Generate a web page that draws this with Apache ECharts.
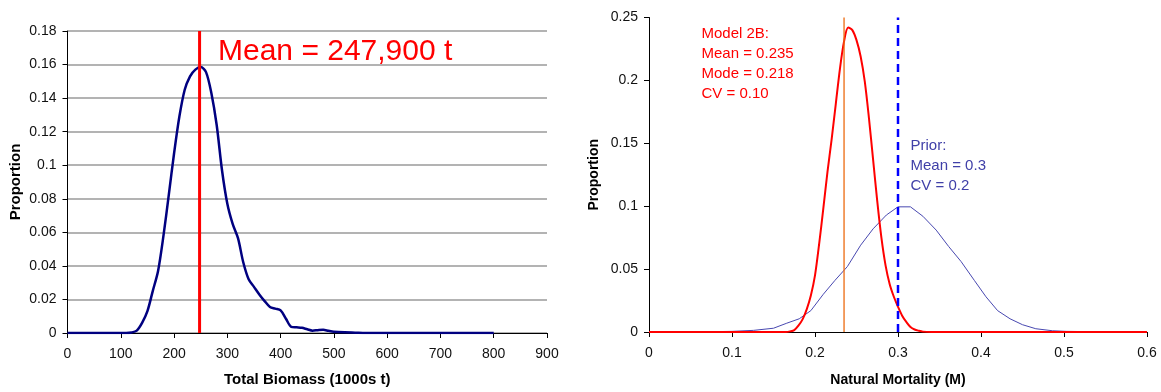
<!DOCTYPE html>
<html>
<head>
<meta charset="utf-8">
<script src="https://cdn.jsdelivr.net/npm/echarts@6.0.0/dist/echarts.min.js"></script>
<style>
  html, body { margin: 0; padding: 0; background: #fff; }
  #chart { width: 1161px; height: 392px; }
</style>
</head>
<body>
<div id="chart"></div>
<script>
// Posterior of total biomass (1000s t)
const biomass = [0, 100, 110, 120, 130, 140, 150, 160, 170, 180, 190, 200, 210, 220, 230, 240, 250,
  260, 270, 280, 290, 300, 310, 320, 330, 340, 350, 360, 370, 380, 390, 400, 410, 420, 430, 440,
  450, 460, 470, 480, 490, 500, 520, 540, 560, 800];
const biomassProp = [0, 0, 0, 0.0003, 0.0014, 0.006, 0.013, 0.025, 0.037, 0.0577, 0.082, 0.107, 0.129,
  0.145, 0.153, 0.157, 0.1585, 0.1555, 0.143, 0.124, 0.097, 0.077, 0.065, 0.0565, 0.042, 0.032, 0.0275,
  0.023, 0.019, 0.0155, 0.0145, 0.0135, 0.0085, 0.0037, 0.0034, 0.0031, 0.0022, 0.0014, 0.0017, 0.0019,
  0.0013, 0.0008, 0.0004, 0.0002, 0, 0];
const biomassMean = 247.9;

// Natural mortality: Model 2B posterior
const postM = [0, 0.165, 0.17, 0.175, 0.18, 0.185, 0.19, 0.195, 0.2, 0.205, 0.21, 0.215, 0.22, 0.225,
  0.23, 0.235, 0.24, 0.245, 0.25, 0.255, 0.26, 0.265, 0.27, 0.275, 0.28, 0.285, 0.29, 0.295, 0.3,
  0.305, 0.31, 0.315, 0.32, 0.325, 0.33, 0.34, 0.6];
const postProp = [0, 0, 0.0005, 0.0015, 0.005, 0.01, 0.018, 0.029, 0.045, 0.07, 0.098, 0.127, 0.153,
  0.181, 0.209, 0.231, 0.242, 0.24, 0.232, 0.219, 0.199, 0.17, 0.137, 0.104, 0.075, 0.053, 0.038,
  0.028, 0.02, 0.013, 0.008, 0.004, 0.002, 0.001, 0.0003, 0, 0];
const postMean = 0.235;

// Natural mortality: prior
const priorM = [0, 0.05, 0.1, 0.126, 0.15, 0.166, 0.181, 0.195, 0.21, 0.224, 0.239, 0.255, 0.27, 0.286,
  0.3, 0.315, 0.33, 0.346, 0.361, 0.376, 0.392, 0.406, 0.42, 0.435, 0.45, 0.466, 0.486, 0.503, 0.55, 0.6];
const priorProp = [0, 0, 0.0005, 0.0013, 0.003, 0.007, 0.0105, 0.017, 0.03, 0.041, 0.052, 0.069, 0.082,
  0.093, 0.0995, 0.0995, 0.092, 0.081, 0.068, 0.056, 0.041, 0.028, 0.017, 0.0105, 0.0058, 0.0026, 0.001,
  0.0005, 0.0001, 0];
const priorMean = 0.3;

const leftNote = 'Mean = 247,900 t';
const postNotes = ['Model 2B:', 'Mean = 0.235', 'Mode = 0.218', 'CV = 0.10'];
const priorNotes = ['Prior:', 'Mean = 0.3', 'CV = 0.2'];

const zip = (xs, ys) => xs.map((x, i) => [x, ys[i]]);
const FONT = '"Liberation Sans", Arial, sans-serif';

const axisCommon = {
  axisLine: { show: true, lineStyle: { color: '#000', width: 1 } },
  axisTick: { show: true, length: 5, lineStyle: { color: '#000' } },
  axisLabel: { color: '#111', fontFamily: FONT, fontSize: 14 },
  nameTextStyle: { color: '#000', fontFamily: FONT, fontWeight: 'bold' },
  nameLocation: 'middle'
};

const chart = echarts.init(document.getElementById('chart'), null, { renderer: 'canvas' });

const option = {
  animation: false,
  backgroundColor: '#fff',
  grid: [
    { left: 67.5, right: 614, top: 31, bottom: 52.5 },
    { left: 649, right: 14, top: 17.5, bottom: 57 }
  ],
  xAxis: [
    Object.assign({}, axisCommon, {
      gridIndex: 0, type: 'value', min: 0, max: 900, interval: 100,
      name: 'Total Biomass (1000s t)', nameGap: 39,
      nameTextStyle: Object.assign({}, axisCommon.nameTextStyle, { fontSize: 15 }),
      axisLabel: Object.assign({}, axisCommon.axisLabel, { margin: 14 }),
      splitLine: { show: false }
    }),
    Object.assign({}, axisCommon, {
      gridIndex: 1, type: 'value', min: 0, max: 0.6, interval: 0.1,
      name: 'Natural Mortality (M)', nameGap: 41,
      nameTextStyle: Object.assign({}, axisCommon.nameTextStyle, { fontSize: 14 }),
      axisLabel: Object.assign({}, axisCommon.axisLabel, { margin: 14 }),
      splitLine: { show: false }
    })
  ],
  yAxis: [
    Object.assign({}, axisCommon, {
      gridIndex: 0, type: 'value', min: 0, max: 0.18, interval: 0.02,
      name: 'Proportion', nameGap: 44,
      nameTextStyle: Object.assign({}, axisCommon.nameTextStyle, { fontSize: 15 }),
      axisLabel: Object.assign({}, axisCommon.axisLabel, { margin: 11 }),
      splitLine: { show: true, lineStyle: { color: '#9a9a9a', width: 1.5 } }
    }),
    Object.assign({}, axisCommon, {
      gridIndex: 1, type: 'value', min: 0, max: 0.25, interval: 0.05,
      name: 'Proportion', nameGap: 48,
      nameTextStyle: Object.assign({}, axisCommon.nameTextStyle, { fontSize: 14 }),
      axisLabel: Object.assign({}, axisCommon.axisLabel, { margin: 11 }),
      splitLine: { show: false }
    })
  ],
  series: [
    {
      name: 'Biomass', type: 'line', xAxisIndex: 0, yAxisIndex: 0,
      data: zip(biomass, biomassProp), smooth: 0.3, showSymbol: false,
      lineStyle: { color: '#000080', width: 2.5 }, z: 3
    },
    {
      name: 'Biomass mean', type: 'line', xAxisIndex: 0, yAxisIndex: 0,
      data: [[biomassMean, 0], [biomassMean, 0.18]], showSymbol: false,
      lineStyle: { color: '#ff0000', width: 3 }, z: 4
    },
    {
      name: 'Prior', type: 'line', xAxisIndex: 1, yAxisIndex: 1,
      data: zip(priorM, priorProp), smooth: false, showSymbol: false,
      lineStyle: { color: '#4848b0', width: 1 }, z: 3
    },
    {
      name: 'Model 2B', type: 'line', xAxisIndex: 1, yAxisIndex: 1,
      data: zip(postM, postProp), smooth: 0.3, showSymbol: false,
      lineStyle: { color: '#ff0000', width: 2 }, z: 4
    },
    {
      name: 'Model 2B mean', type: 'line', xAxisIndex: 1, yAxisIndex: 1,
      data: [[postMean, 0], [postMean, 0.25]], showSymbol: false,
      lineStyle: { color: '#ec6a10', width: 1.3 }, z: 5
    },
    {
      name: 'Prior mean', type: 'line', xAxisIndex: 1, yAxisIndex: 1,
      data: [[priorMean, 0], [priorMean, 0.25]], showSymbol: false,
      lineStyle: { color: '#0000ff', width: 2.5, type: [8, 5] }, z: 6
    }
  ],
  graphic: [
    {
      type: 'text', x: 218, y: 51.5,
      style: { text: leftNote, fill: '#ff0000', font: '30px ' + FONT, textVerticalAlign: 'middle' }
    }
  ].concat(postNotes.map((t, i) => ({
    type: 'text', x: 701.5, y: 33.7 + i * 19.9,
    style: { text: t, fill: '#ff0000', font: '15px ' + FONT, textVerticalAlign: 'middle' }
  }))).concat(priorNotes.map((t, i) => ({
    type: 'text', x: 910.5, y: 146 + i * 19.7,
    style: { text: t, fill: '#4040a8', font: '15px ' + FONT, textVerticalAlign: 'middle' }
  })))
};

chart.setOption(option);
</script>
</body>
</html>
